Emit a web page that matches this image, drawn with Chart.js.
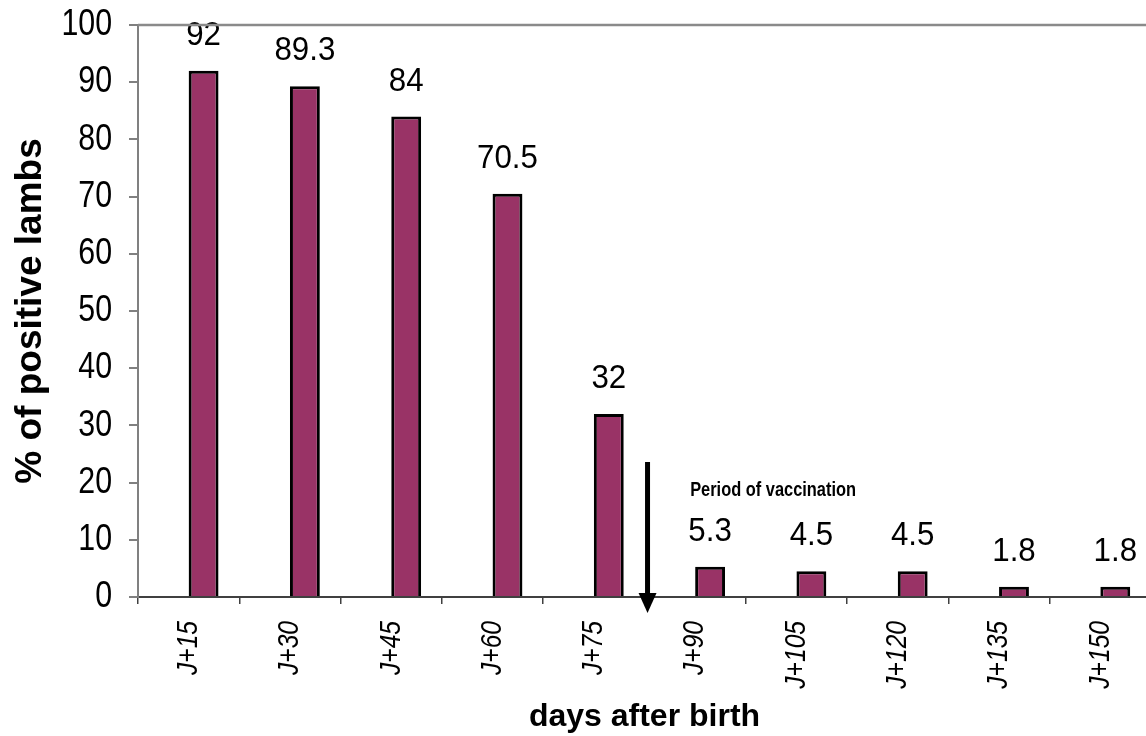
<!DOCTYPE html>
<html>
<head>
<meta charset="utf-8">
<script src="https://cdn.jsdelivr.net/npm/chart.js@4/dist/chart.umd.min.js"></script>
<style>
  html, body { margin: 0; padding: 0; background: #ffffff; overflow: hidden; }
  canvas { display: block; }
</style>
</head>
<body>
<canvas id="chart" width="1156" height="736"></canvas>
<script>
// Sampling days after birth
const categories = ['J+15', 'J+30', 'J+45', 'J+60', 'J+75', 'J+90', 'J+105', 'J+120', 'J+135', 'J+150'];
// Share of lambs testing positive (%)
const positivePercent = [92, 89.3, 84, 70.5, 32, 5.3, 4.5, 4.5, 1.8, 1.8];
// Empty companion series (keeps each bar in the right half of its slot)
const spacerSeries = [null, null, null, null, null, null, null, null, null, null];
// Y axis tick values
const yTicks = [0, 10, 20, 30, 40, 50, 60, 70, 80, 90, 100];
// Vaccination marker: category position, arrow top value, arrow tip value
const vaccinationAt = [4.53];
const vaccinationArrow = [23.6, -2.8];
const vaccinationLabel = 'Period of vaccination';

const FAMILY = "'Liberation Sans', Arial, sans-serif";
// Narrow face emulated by squeezing the regular face horizontally
const NARROW_SCALE = 0.82;
const LABEL_SCALE = 0.92;

Chart.defaults.font.family = FAMILY;
Chart.defaults.color = '#000000';

function squeezedText(ctx, text, x, y, rotation, squeeze, font, align, baseline) {
  ctx.save();
  ctx.translate(x, y);
  if (rotation) ctx.rotate(rotation);
  ctx.scale(squeeze, 1);
  ctx.font = font;
  ctx.fillStyle = '#000000';
  ctx.textAlign = align;
  ctx.textBaseline = baseline;
  ctx.fillText(text, 0, 0);
  ctx.restore();
}

const topBorder = {
  id: 'topBorder',
  afterDraw(chart) {
    const { ctx, chartArea } = chart;
    ctx.save();
    ctx.strokeStyle = '#8a8a8a';
    ctx.lineWidth = 2.5;
    ctx.beginPath();
    ctx.moveTo(chartArea.left, chartArea.top);
    ctx.lineTo(chartArea.right, chartArea.top);
    ctx.stroke();
    ctx.restore();
  }
};

// Tick labels in the narrow face, placed from the scales' own tick positions
const narrowTickLabels = {
  id: 'narrowTickLabels',
  afterDraw(chart) {
    const { ctx } = chart;
    const xs = chart.scales.x, ys = chart.scales.y;
    ys.ticks.forEach((t, i) => {
      const y = ys.getPixelForTick(i);
      squeezedText(ctx, String(t.value), ys.right - 9 - 17, y, 0, NARROW_SCALE,
        '37px ' + FAMILY, 'right', 'middle');
    });
    xs.ticks.forEach((t, i) => {
      const x = xs.getPixelForTick(i);
      squeezedText(ctx, categories[i], x, xs.top + 7 + 17, -Math.PI / 2, NARROW_SCALE,
        'italic 30px ' + FAMILY, 'right', 'middle');
    });
  }
};

const valueLabels = {
  id: 'valueLabels',
  afterDatasetsDraw(chart) {
    const { ctx } = chart;
    const meta = chart.getDatasetMeta(1);
    meta.data.forEach((bar, i) => {
      squeezedText(ctx, String(positivePercent[i]), bar.x, bar.y - 26, 0, LABEL_SCALE,
        '34px ' + FAMILY, 'center', 'alphabetic');
    });
  }
};

const vaccinationMarker = {
  id: 'vaccinationMarker',
  afterDraw(chart) {
    const { ctx } = chart;
    const xs = chart.scales.x, ys = chart.scales.y;
    const x = xs.getPixelForValue(vaccinationAt[0]);
    const yTop = ys.getPixelForValue(vaccinationArrow[0]);
    const yBase = ys.getPixelForValue(0) - 4;
    const yTip = ys.getPixelForValue(vaccinationArrow[1]);
    ctx.save();
    ctx.strokeStyle = '#000000';
    ctx.fillStyle = '#000000';
    ctx.lineWidth = 5;
    ctx.beginPath();
    ctx.moveTo(x, yTop);
    ctx.lineTo(x, yBase);
    ctx.stroke();
    ctx.beginPath();
    ctx.moveTo(x - 9, yBase);
    ctx.lineTo(x + 9, yBase);
    ctx.lineTo(x, yTip);
    ctx.closePath();
    ctx.fill();
    ctx.restore();
    squeezedText(ctx, vaccinationLabel, xs.getPixelForValue(5) - 5, ys.getPixelForValue(17.6), 0,
      NARROW_SCALE, 'bold 20px ' + FAMILY, 'left', 'alphabetic');
  }
};

new Chart(document.getElementById('chart'), {
  type: 'bar',
  data: {
    labels: categories,
    datasets: [
      {
        label: '',
        data: spacerSeries,
        backgroundColor: 'rgba(0,0,0,0)'
      },
      {
        label: '% of positive lambs',
        data: positivePercent,
        backgroundColor: '#993366',
        borderColor: '#000000',
        borderWidth: 3
      }
    ]
  },
  options: {
    responsive: false,
    animation: false,
    datasets: { bar: { barPercentage: 1, categoryPercentage: 0.59 } },
    layout: { padding: { top: 25, right: 5, left: 0, bottom: 0 } },
    plugins: {
      legend: { display: false },
      tooltip: { enabled: false }
    },
    scales: {
      x: {
        grid: {
          display: true,
          drawOnChartArea: false,
          offset: true,
          tickLength: 7,
          color: '#404040',
          lineWidth: 1.5
        },
        border: { display: true, color: '#404040', width: 2 },
        ticks: { display: false },
        title: {
          display: true,
          text: 'days after birth',
          color: '#000000',
          font: { family: FAMILY, size: 32, weight: 'bold' },
          padding: { top: 0, bottom: 0 }
        },
        afterFit(scale) { scale.height = 139; }
      },
      y: {
        min: 0,
        max: 100,
        afterBuildTicks(scale) { scale.ticks = yTicks.map(v => ({ value: v })); },
        grid: {
          display: true,
          drawOnChartArea: false,
          tickLength: 9,
          color: '#808080',
          lineWidth: 2
        },
        border: { display: true, color: '#808080', width: 2 },
        ticks: { display: false },
        title: {
          display: true,
          text: '% of positive lambs',
          color: '#000000',
          font: { family: FAMILY, size: 37, weight: 'bold' },
          padding: { top: 9, bottom: 0 }
        },
        afterFit(scale) { scale.width = 138; }
      }
    }
  },
  plugins: [topBorder, narrowTickLabels, valueLabels, vaccinationMarker]
});
</script>
</body>
</html>
